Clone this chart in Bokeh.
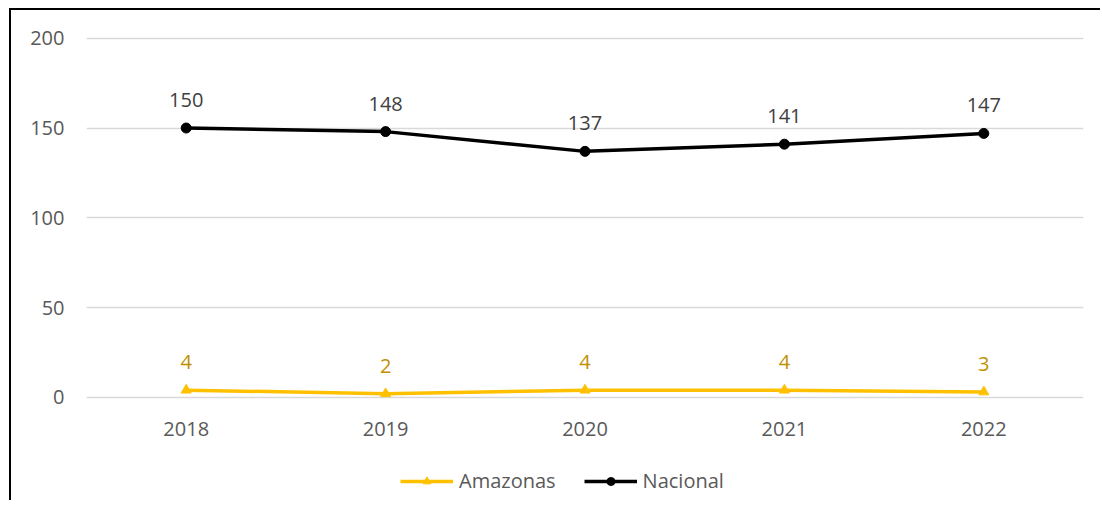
from bokeh.plotting import figure
from bokeh.layouts import column, row
from bokeh.models import ColumnDataSource, Legend, LegendItem, FactorRange, Range1d, FixedTicker, Div
from bokeh.core.properties import value
from bokeh.embed import file_html
from bokeh.resources import INLINE

years = ["2018", "2019", "2020", "2021", "2022"]
amazonas = [4, 2, 4, 4, 3]
nacional = [150, 148, 137, 141, 147]
y_ticks = [0, 50, 100, 150, 200]
series_names = ["Amazonas", "Nacional"]

FONT = "Open Sans"
C_AMA = "#FFC000"
C_NAC = "black"

src_a = ColumnDataSource(dict(x=years, y=amazonas, t=[str(v) for v in amazonas]))
src_n = ColumnDataSource(dict(x=years, y=nacional, t=[str(v) for v in nacional]))

p = figure(width=1089, height=442, output_backend="svg", toolbar_location=None,
           x_range=FactorRange(*years, range_padding=0), y_range=Range1d(-4, 206),
           min_border_left=75, min_border_right=17, min_border_top=17, min_border_bottom=48)
p.outline_line_color = None
p.background_fill_color = "white"

p.xaxis.axis_line_color = None
p.xaxis.major_tick_line_color = None
p.xaxis.minor_tick_line_color = None
p.xaxis.major_label_text_font = FONT
p.xaxis.major_label_text_font_size = "20px"
p.xaxis.major_label_text_color = "#595959"
p.xaxis.major_label_standoff = 11
p.xgrid.grid_line_color = None

p.yaxis.ticker = FixedTicker(ticks=y_ticks)
p.yaxis.axis_line_color = None
p.yaxis.major_tick_line_color = None
p.yaxis.minor_tick_line_color = None
p.yaxis.major_label_text_font = FONT
p.yaxis.major_label_text_font_size = "20px"
p.yaxis.major_label_text_color = "#595959"
p.yaxis.major_label_standoff = 16
p.ygrid.ticker = FixedTicker(ticks=y_ticks)
p.ygrid.grid_line_color = "#D9D9D9"
p.ygrid.grid_line_width = 1.5

p.line("x", "y", source=src_a, line_color=C_AMA, line_width=3.5)
p.scatter("x", "y", source=src_a, marker="triangle", size=10, fill_color=C_AMA, line_color=C_AMA)
p.line("x", "y", source=src_n, line_color=C_NAC, line_width=3.5)
p.scatter("x", "y", source=src_n, marker="circle", size=10, fill_color=C_NAC, line_color=C_NAC)

p.text("x", "y", text="t", source=src_a, text_font=value(FONT), text_font_size="20px",
       text_color="#BF9000", text_align="center", text_baseline="middle", y_offset=-28)
p.text("x", "y", text="t", source=src_n, text_font=value(FONT), text_font_size="20px",
       text_color="#404040", text_align="center", text_baseline="middle", y_offset=-28)

# legend strip: a small figure below the chart whose series sit outside its view,
# so only the legend entries show
lg = figure(width=1089, height=48, output_backend="svg", toolbar_location=None,
            x_range=FactorRange(*years, range_padding=0), y_range=Range1d(1000, 1001),
            min_border_left=0, min_border_right=0, min_border_top=0, min_border_bottom=0)
lg.axis.visible = False
lg.grid.visible = False
lg.outline_line_color = None
la = lg.line("x", "y", source=src_a, line_color=C_AMA, line_width=3.5)
ma = lg.scatter("x", "y", source=src_a, marker="triangle", size=10, fill_color=C_AMA, line_color=C_AMA)
ln = lg.line("x", "y", source=src_n, line_color=C_NAC, line_width=3.5)
mn = lg.scatter("x", "y", source=src_n, marker="circle", size=10, fill_color=C_NAC, line_color=C_NAC)
legend = Legend(items=[LegendItem(label=series_names[0], renderers=[la, ma]),
                       LegendItem(label=series_names[1], renderers=[ln, mn])],
                orientation="horizontal", location=(314, 6),
                glyph_width=53, glyph_height=20, label_standoff=6, spacing=28,
                label_text_font=FONT, label_text_font_size="20px", label_text_color="#595959",
                border_line_color=None, background_fill_alpha=0, margin=0, padding=4)
lg.add_layout(legend)

top_bar = Div(text="", width=1091, height=2, margin=(8, 0, 0, 9),
              styles={"background-color": "black"})
left_bar = Div(text="", width=2, height=490, margin=(0, 0, 0, 9),
               styles={"background-color": "black"})
layout = column(top_bar, row(left_bar, column(p, lg, spacing=0), spacing=0), spacing=0)

open("out.html", "w").write(file_html(layout, INLINE))
